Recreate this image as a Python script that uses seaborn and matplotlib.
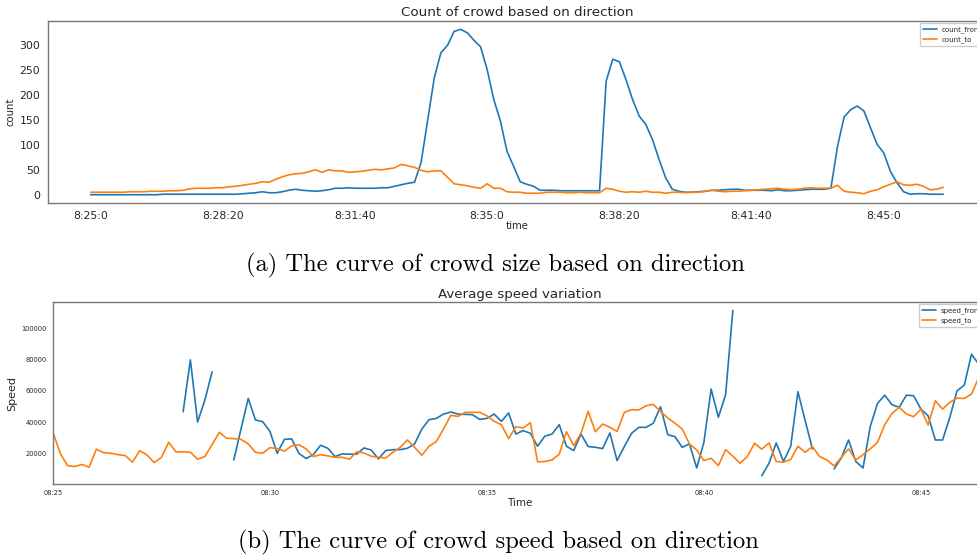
import matplotlib
matplotlib.use("Agg")

import matplotlib.dates as mdates
import matplotlib.pyplot as plt
import numpy as np
import pandas as pd
import seaborn as sns


# ==========================
# DADOS (uma amostra a cada 10 s, 08:25:00 -> 08:46:30)
# ==========================

STEP_S = 10
START = "2021-01-01 08:25:00"

COUNT_FROM = [
    0, 0, 0, 0, 0, 0, 0, 0, 0, 0,
    0, 1, 1, 1, 1, 1, 1, 1, 1, 1,
    1, 1, 1, 2, 3, 4, 6, 4, 4, 6,
    9, 11, 9, 8, 7, 8, 10, 13, 13, 14,
    13, 13, 13, 13, 14, 14, 17, 20, 23, 25,
    65, 150, 235, 285, 300, 328, 332, 325, 310, 297,
    251, 191, 148, 87, 57, 26, 21, 17, 9, 9,
    9, 8, 8, 8, 8, 8, 8, 8, 228, 272,
    267, 231, 191, 158, 141, 111, 71, 34, 11, 7,
    5, 5, 6, 7, 9, 9, 10, 11, 11, 9,
    9, 9, 9, 8, 10, 8, 8, 9, 10, 11,
    11, 11, 13, 97, 156, 171, 178, 168, 134, 101,
    84, 47, 24, 6, 1, 2, 2, 1, 1, 1,
]

COUNT_TO = [
    5, 5, 5, 5, 5, 5, 6, 6, 6, 7,
    7, 7, 8, 8, 9, 12, 13, 13, 13, 14,
    14, 16, 17, 19, 21, 23, 26, 25, 31, 36,
    40, 42, 43, 46, 50, 45, 50, 48, 48, 45,
    46, 47, 49, 51, 50, 52, 54, 61, 58, 55,
    49, 46, 48, 48, 35, 22, 20, 18, 15, 13,
    22, 13, 13, 6, 5, 5, 3, 3, 3, 5,
    5, 5, 4, 4, 5, 4, 4, 4, 13, 11,
    7, 5, 6, 5, 7, 5, 5, 3, 5, 5,
    4, 5, 5, 7, 9, 7, 6, 7, 7, 8,
    9, 10, 11, 12, 13, 11, 10, 11, 13, 14,
    13, 13, 13, 19, 7, 5, 4, 2, 7, 10,
    16, 21, 26, 20, 19, 21, 17, 10, 11, 15,
]

nan = np.nan

SPEED_FROM = [
    nan, nan, nan, nan, nan, nan, nan, nan, nan, nan,
    nan, nan, nan, nan, nan, nan, nan, nan, 46600, 79800,
    40000, 54000, 72100, nan, nan, 15700, 35500, 55100, 41300, 40200,
    34000, 20000, 28900, 29200, 20000, 16600, 19100, 25100, 23200, 17900,
    19600, 19400, 19400, 23400, 22100, 16400, 21700, 22300, 22300, 23200,
    26000, 35500, 41500, 42300, 45100, 46400, 45100, 44900, 44700, 41700,
    42300, 45100, 40400, 45800, 32300, 34500, 32800, 24500, 30900, 32300,
    38300, 24500, 21700, 32300, 24300, 23800, 23000, 33000, 15300, 24300,
    32800, 36600, 36600, 39200, 49800, 31900, 30600, 23800, 26000, 10600,
    27000, 61100, 43000, 57500, 111500, nan, nan, nan, 5600, 13600,
    26600, 14700, 24500, 59400, 40900, 22800, nan, nan, 10000, 17000,
    28500, 14700, 10600, 37200, 51900, 57200, 51100, 49400, 57200, 56800,
    48300, 44000, 28500, 28500, 43000, 60000, 63600, 83400, 77000, 75000,
]

SPEED_TO = [
    33400, 20000, 12100, 11500, 12800, 11100, 22600, 20400, 20000, 19100,
    18500, 14300, 21700, 18900, 14000, 17400, 27000, 20900, 20900, 20600,
    16200, 17900, 25500, 33400, 29600, 29400, 28900, 26000, 20600, 20000,
    23600, 23000, 21300, 24700, 25500, 22800, 17900, 19100, 18300, 17400,
    17400, 16200, 20900, 20200, 18100, 17400, 17000, 20600, 23800, 28500,
    23800, 18700, 24500, 27500, 35500, 44300, 43600, 46200, 46200, 46200,
    44000, 40400, 38300, 29400, 37000, 36200, 39600, 14500, 14700, 15700,
    19400, 33800, 24900, 32800, 46800, 33800, 38700, 36600, 34000, 46200,
    47900, 47700, 50400, 51300, 46800, 42600, 39200, 35500, 26000, 22100,
    15300, 16800, 12100, 22300, 18100, 13600, 17900, 26400, 22600, 26600,
    14700, 14300, 16000, 24500, 20600, 24300, 17900, 15700, 11900, 17400,
    22800, 15700, 19100, 22800, 27000, 38300, 45500, 49400, 45100, 43400,
    48300, 38100, 53600, 48300, 52600, 55300, 55100, 57900, 68500, 70000,
]

COUNT_TICKS = [0, 200, 400, 600, 800, 1000, 1200]
COUNT_TICK_LABELS = ["8:25:0", "8:28:20", "8:31:40", "8:35:0",
                     "8:38:20", "8:41:40", "8:45:0"]

CAPTION_A = "(a) The curve of crowd size based on direction"
CAPTION_B = "(b) The curve of crowd speed based on direction"

BLUE = "#1f77b4"
ORANGE = "#ff7f0e"
SPINE = "#777777"
TEXT = "#262626"


# ==========================
# ESTILO
# ==========================

def estilo_eixo(ax, tick_size, tick_len, tick_pad):
    for lado in ax.spines.values():
        lado.set_color(SPINE)
        lado.set_linewidth(1.0)
    ax.tick_params(labelsize=tick_size, colors=SPINE, labelcolor=TEXT,
                   length=tick_len, width=0.8, pad=tick_pad)


def legenda(ax, fig, x_px, y_px):
    ax.legend(loc="upper left", bbox_to_anchor=(x_px / 977, 1 - y_px / 558),
              bbox_transform=fig.transFigure, fontsize=5, frameon=True,
              framealpha=1, edgecolor="#cccccc", fancybox=True,
              handlelength=2.0, handletextpad=0.7, borderpad=0.45,
              labelspacing=0.45, borderaxespad=0)


def desenhar_serie(ax, x, y, cor, rotulo):
    # quebra a linha onde houver NaN
    y = np.asarray(y, dtype=float)
    validos = ~np.isnan(y)
    grupos = np.cumsum(~validos)
    primeiro = True
    for g in np.unique(grupos[validos]):
        m = validos & (grupos == g)
        sns.lineplot(x=np.asarray(x)[m], y=y[m], ax=ax, color=cor,
                     linewidth=1.2, label=rotulo if primeiro else None)
        primeiro = False


# ==========================
# GRÁFICO (a) - CONTAGEM
# ==========================

def grafico_contagem(fig):
    ax = fig.add_axes([0.0491, 0.6362, 0.960, 0.326])
    segundos = np.arange(len(COUNT_FROM)) * STEP_S

    desenhar_serie(ax, segundos, COUNT_FROM, BLUE, "count_from")
    desenhar_serie(ax, segundos, COUNT_TO, ORANGE, "count_to")

    ax.margins(x=0.05, y=0.05)
    ax.set_xticks(COUNT_TICKS)
    ax.set_xticklabels(COUNT_TICK_LABELS)
    ax.set_yticks([0, 50, 100, 150, 200, 250, 300])
    ax.set_title("Count of crowd based on direction", fontsize=9.7,
                 color=TEXT, pad=4)
    ax.set_xlabel("time", fontsize=7.3, color=TEXT, labelpad=0)
    ax.set_ylabel("count", fontsize=7.3, color=TEXT, labelpad=3)
    estilo_eixo(ax, 7.8, 3, 2.5)

    legenda(ax, fig, 920, 23)


# ==========================
# GRÁFICO (b) - VELOCIDADE
# ==========================

def grafico_velocidade(fig):
    ax = fig.add_axes([0.0542, 0.1326, 0.955, 0.326])
    tempo = pd.date_range(START, periods=len(SPEED_TO), freq=f"{STEP_S}s")

    desenhar_serie(ax, tempo, SPEED_FROM, BLUE, "speed_from")
    desenhar_serie(ax, tempo, SPEED_TO, ORANGE, "speed_to")

    ax.set_xlim(tempo[0], tempo[-1])
    ax.margins(y=0.05)
    ax.xaxis.set_major_locator(mdates.MinuteLocator(byminute=range(0, 60, 5)))
    ax.xaxis.set_major_formatter(mdates.DateFormatter("%H:%M"))
    ax.set_yticks([20000, 40000, 60000, 80000, 100000])
    ax.set_title("Average speed variation", fontsize=9.6, color=TEXT, pad=3)
    ax.set_xlabel("Time", fontsize=7.5, color=TEXT, labelpad=1)
    ax.set_ylabel("Speed", fontsize=8, color=TEXT, labelpad=3)
    estilo_eixo(ax, 4.8, 2.5, 2)

    legenda(ax, fig, 919, 304)


# ==========================
# FUNÇÃO PRINCIPAL
# ==========================

def main():
    sns.set_style("white")
    plt.rcParams["font.family"] = ["DejaVu Sans"]

    fig = plt.figure(figsize=(9.77, 5.58), dpi=100)

    grafico_contagem(fig)
    grafico_velocidade(fig)

    fig.text(495 / 977, 1 - 265 / 558, CAPTION_A, ha="center", va="center",
             fontsize=17.7, family="cmr10", color="black")
    fig.text(498 / 977, 1 - 542 / 558, CAPTION_B, ha="center", va="center",
             fontsize=17.7, family="cmr10", color="black")

    fig.savefig("out.png", dpi=100)


if __name__ == "__main__":
    main()
